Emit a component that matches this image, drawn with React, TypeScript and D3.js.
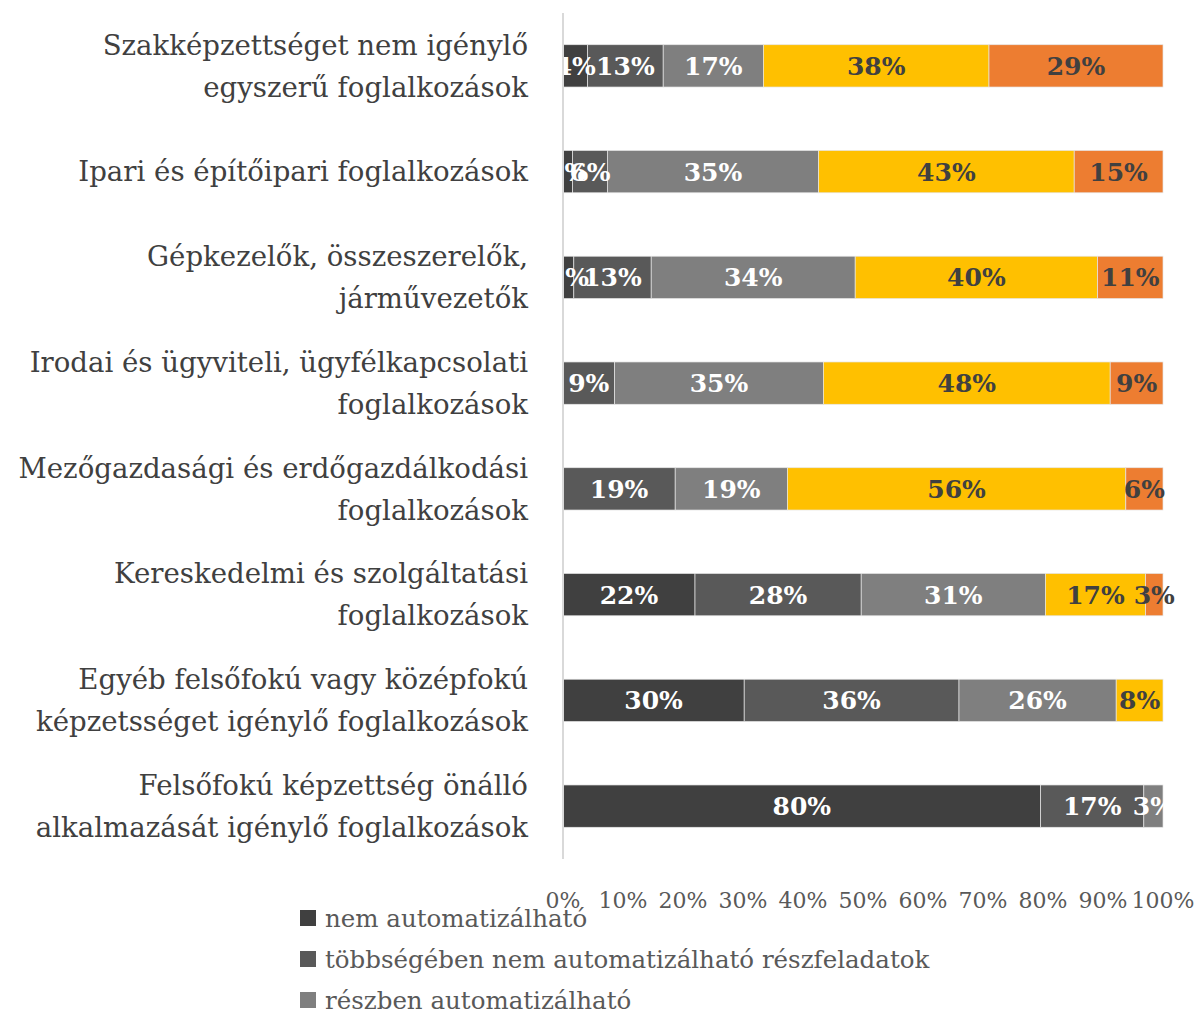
import React from 'react';
import * as d3 from 'd3';

const categories = [
  'Szakképzettséget nem igénylő|egyszerű foglalkozások',
  'Ipari és építőipari foglalkozások',
  'Gépkezelők, összeszerelők,|járművezetők',
  'Irodai és ügyviteli, ügyfélkapcsolati|foglalkozások',
  'Mezőgazdasági és erdőgazdálkodási|foglalkozások',
  'Kereskedelmi és szolgáltatási|foglalkozások',
  'Egyéb felsőfokú vagy középfokú|képzetsséget igénylő foglalkozások',
  'Felsőfokú képzettség önálló|alkalmazását igénylő foglalkozások',
];

const seriesNames = [
  'nem automatizálható',
  'többségében nem automatizálható részfeladatok',
  'részben automatizálható',
  'többségében automatizálható részfeladatok',
  'automatizálható',
];

// one array per series, in category order
const nemAuto = [4.1, 1.6, 1.8, 0, 0, 22.0, 30.2, 79.6];
const tobbsegNem = [12.6, 5.8, 12.9, 8.6, 18.7, 27.7, 35.8, 17.2];
const reszben = [16.7, 35.2, 34.0, 34.8, 18.7, 30.7, 26.2, 3.2];
const tobbsegAuto = [37.6, 42.6, 40.4, 47.8, 56.4, 16.7, 7.8, 0];
const auto = [29.0, 14.8, 10.9, 8.8, 6.2, 2.9, 0, 0];

const tickValues = [0, 10, 20, 30, 40, 50, 60, 70, 80, 90, 100];

const colors = ['#404040', '#595959', '#7f7f7f', '#ffc000', '#ed7d31'];
const labelColors = ['#ffffff', '#ffffff', '#ffffff', '#404040', '#404040'];

const FONT = '"DejaVu Serif", serif';

const App = () => {
  const width = 1198;
  const height = 1014;

  const rows = categories.map((c, i) => ({
    cat: c,
    s0: nemAuto[i],
    s1: tobbsegNem[i],
    s2: reszben[i],
    s3: tobbsegAuto[i],
    s4: auto[i],
  }));
  const keys = ['s0', 's1', 's2', 's3', 's4'];
  const stacked = d3.stack<any>().keys(keys).offset(d3.stackOffsetExpand)(rows);

  const x = d3.scaleLinear().domain([0, 1]).range([563, 1163]);
  const y = d3.scaleBand().domain(categories).range([13, 859]).paddingInner(0.6).paddingOuter(0.3);
  const tickX = d3.scaleLinear().domain([0, 100]).range([563, 1163]);

  // legend rows: the chart is cut at the bottom, only the first ones fit
  const legendY = (i: number) => 918 + i * 41;

  return (
    <svg width={width} height={height} style={{ position: 'absolute', left: 0, top: 0, background: '#fff' }}>
      {/* category labels */}
      {categories.map(c => {
        const lines = c.split('|');
        const cy = (y(c) as number) + y.bandwidth() / 2;
        return (
          <text key={c} x={528} textAnchor="end" fontFamily={FONT} fontSize={27.6} fill="#404040">
            {lines.map((l, j) => (
              <tspan key={j} x={528} y={cy + (j - (lines.length - 1) / 2) * 42} dy="0.35em">{l}</tspan>
            ))}
          </text>
        );
      })}

      {/* bars */}
      {stacked.map((layer, si) => (
        <g key={layer.key} fill={colors[si]}>
          {layer.map((d, i) => (
            d[1] - d[0] > 0 ? (
              <rect key={i} x={x(d[0])} y={y(categories[i])} width={x(d[1]) - x(d[0])} height={y.bandwidth()}
                stroke="#e6e6e6" strokeWidth={0.7} />
            ) : null
          ))}
        </g>
      ))}

      {/* data labels */}
      {stacked.map((layer, si) => (
        <g key={'l' + layer.key}>
          {layer.map((d, i) => {
            const v = (rows[i] as any)[keys[si]];
            if (v <= 0) return null;
            return (
              <text key={i} x={(x(d[0]) + x(d[1])) / 2} y={(y(categories[i]) as number) + y.bandwidth() / 2}
                dy="0.36em" textAnchor="middle" fontFamily={FONT} fontWeight="bold" fontSize={25} fill={labelColors[si]}>
                {Math.round(v)}%
              </text>
            );
          })}
        </g>
      ))}

      {/* vertical axis line */}
      <line x1={563} x2={563} y1={13} y2={859} stroke="#d9d9d9" strokeWidth={2} />

      {/* x tick labels */}
      {tickValues.map(t => (
        <text key={t} x={tickX(t)} y={900} dy="0.35em" textAnchor="middle" fontFamily={FONT} fontSize={22} fill="#595959">
          {t}%
        </text>
      ))}

      {/* legend */}
      {seriesNames.filter((_, i) => legendY(i) + 12 < height).map((n, i) => (
        <g key={n} transform={`translate(300, ${legendY(i)})`}>
          <rect x={0} y={-8} width={16} height={16} fill={colors[i]} />
          <text x={25} y={0} dy="0.35em" fontFamily={FONT} fontSize={24.5} fill="#595959">{n}</text>
        </g>
      ))}
    </svg>
  );
};

export default App;
